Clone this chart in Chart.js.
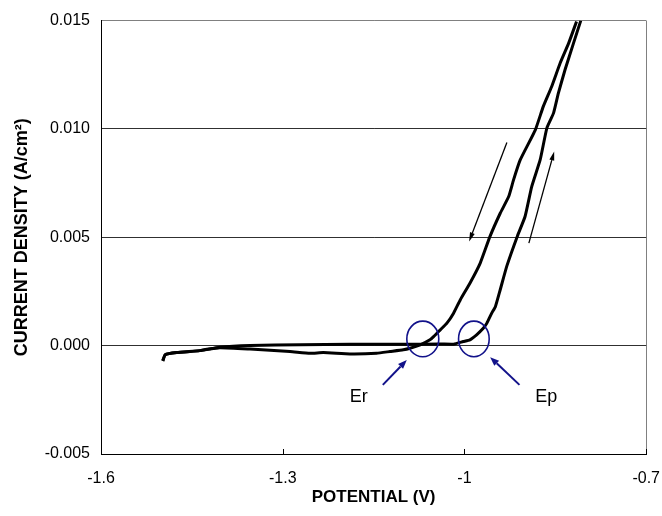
<!DOCTYPE html>
<html><head><meta charset="utf-8">
<script src="https://cdn.jsdelivr.net/npm/chart.js@4.4.1/dist/chart.umd.min.js"></script>
<style>html,body{margin:0;padding:0;background:#fff}#wrap{width:662px;height:516px}</style>
</head><body><div id="wrap"><canvas id="c" width="662" height="516"></canvas></div>
<script>
// Forward (anodic) scan
const forwardV = [-1.498,-1.494,-1.475,-1.437,-1.404,-1.354,-1.271,-1.189,-1.106,-1.040,-1.018,-1.002,-0.991,-0.980,-0.969,-0.963,-0.955,-0.949,-0.941,-0.930,-0.913,-0.900,-0.889,-0.875,-0.864,-0.853,-0.845,-0.834,-0.820,-0.808];
const forwardI = [-0.0007,-0.00042,-0.00032,-0.00023,-0.00007,0.00001,0.00004,0.00006,0.00006,0.00008,0.00007,0.00019,0.00027,0.0005,0.0008,0.00104,0.0015,0.0018,0.00258,0.00368,0.00503,0.00596,0.00734,0.00858,0.01004,0.01073,0.01165,0.01273,0.01396,0.0150];
// Reverse scan
const reverseV = [-0.815,-0.828,-0.842,-0.856,-0.870,-0.883,-0.908,-0.919,-0.927,-0.941,-0.958,-0.974,-0.991,-1.007,-1.018,-1.029,-1.040,-1.051,-1.057,-1.073,-1.090,-1.101,-1.123,-1.145,-1.189,-1.233,-1.255,-1.288,-1.354,-1.404,-1.437,-1.475,-1.494,-1.498];
const reverseI = [0.01496,0.01396,0.01304,0.01196,0.01103,0.00996,0.00857,0.00765,0.00688,0.00611,0.00503,0.00381,0.00288,0.00211,0.0015,0.00104,0.00073,0.00042,0.00027,0.00004,-0.00012,-0.00019,-0.00027,-0.00035,-0.00038,-0.00032,-0.00035,-0.00027,-0.00016,-0.0001,-0.00023,-0.00032,-0.00042,-0.0007];
const xTicks = [-1.6,-1.3,-1,-0.7];
const yTicks = [-0.005,0,0.005,0.010,0.015];
// annotations (data coordinates)
const circleCenters = [[-1.0688,0.00031],[-0.9845,0.00031]];
const circleRx = [0.0264,0.0253];
const circleRy = [0.00082,0.00082];
const navyArrows = [[-1.1348,-0.00181,-1.0952,-0.00066],[-0.9092,-0.00181,-0.9576,-0.00053]];
const blackArrows = [[-0.930,0.00937,-0.9923,0.00481],[-0.8937,0.00473,-0.8519,0.00896]];
const noteLabels = [["Er",-1.1744,-0.00235],["Ep",-0.8651,-0.00235]];

const FONT = '"Liberation Sans", Arial, sans-serif';
const NAVY = '#12128a';

function toPts(xs, ys){ return xs.map((v,i)=>({x:v,y:ys[i]})); }

function arrow(ctx,x1,y1,x2,y2,color,lw,hl,hw){
  const a=Math.atan2(y2-y1,x2-x1);
  ctx.strokeStyle=color; ctx.fillStyle=color; ctx.lineWidth=lw;
  const bx=x2-hl*Math.cos(a), by=y2-hl*Math.sin(a);
  ctx.beginPath(); ctx.moveTo(x1,y1); ctx.lineTo(bx,by); ctx.stroke();
  ctx.beginPath(); ctx.moveTo(x2,y2);
  ctx.lineTo(bx+hw/2*Math.sin(a), by-hw/2*Math.cos(a));
  ctx.lineTo(bx-hw/2*Math.sin(a), by+hw/2*Math.cos(a));
  ctx.closePath(); ctx.fill();
}

const annot = {
  id:'annot',
  afterDatasetsDraw(chart){
    const {ctx, scales:{x,y}} = chart;
    const px=v=>x.getPixelForValue(v), py=v=>y.getPixelForValue(v);
    ctx.save();
    ctx.strokeStyle='#000'; ctx.lineWidth=1;
    xTicks.forEach(t=>{const X=Math.round(px(t))+0.5; ctx.beginPath(); ctx.moveTo(X,y.bottom); ctx.lineTo(X,y.bottom-5); ctx.stroke();});
    ctx.strokeStyle=NAVY; ctx.lineWidth=1.6;
    circleCenters.forEach((c,i)=>{
      const cx=px(c[0]), cy=py(c[1]);
      const rx=Math.abs(px(c[0]+circleRx[i])-cx), ry=Math.abs(py(c[1]+circleRy[i])-cy);
      ctx.beginPath(); ctx.ellipse(cx,cy,rx,ry,0,0,Math.PI*2); ctx.stroke();
    });
    navyArrows.forEach(a=>arrow(ctx,px(a[0]),py(a[1]),px(a[2]),py(a[3]),NAVY,2,9,7));
    blackArrows.forEach(a=>arrow(ctx,px(a[0]),py(a[1]),px(a[2]),py(a[3]),'#000',1.3,9,5));
    ctx.fillStyle='#000'; ctx.font='18px '+FONT; ctx.textAlign='center'; ctx.textBaseline='middle';
    noteLabels.forEach(l=>ctx.fillText(l[0],px(l[1]),py(l[2])));
    ctx.restore();
  }
};

new Chart(document.getElementById('c'), {
  type:'scatter',
  data:{datasets:[
    {label:'forward', data:toPts(forwardV,forwardI), showLine:true, borderColor:'#000', borderWidth:3, pointRadius:0, tension:0.15},
    {label:'reverse', data:toPts(reverseV,reverseI), showLine:true, borderColor:'#000', borderWidth:3, pointRadius:0, tension:0.15}
  ]},
  options:{
    responsive:false, animation:false, devicePixelRatio:1,
    layout:{padding:{top:20,right:3,left:0,bottom:0}},
    plugins:{legend:{display:false}, tooltip:{enabled:false}},
    scales:{
      x:{type:'linear', min:-1.6, max:-0.7,
        afterBuildTicks:s=>{s.ticks=xTicks.map(v=>({value:v}));},
        afterFit:s=>{s.height=62;},
        border:{color:'#000',width:1},
        grid:{drawTicks:true, tickLength:13, tickColor:'rgba(0,0,0,0)', color:c=>(c.tick && c.tick.value===-0.7)?'#808080':'rgba(0,0,0,0)'},
        ticks:{padding:2, color:'#000', font:{family:FONT,size:16}, maxRotation:0, callback:v=>String(parseFloat(Number(v).toFixed(2)))},
        title:{display:true, text:'POTENTIAL (V)', color:'#000', font:{family:FONT,size:17,weight:'bold'}, padding:{top:0,bottom:8}}
      },
      y:{type:'linear', min:-0.005, max:0.015,
        afterBuildTicks:s=>{s.ticks=yTicks.map(v=>({value:v}));},
        afterFit:s=>{s.width=101;},
        border:{color:'#000',width:1},
        grid:{drawTicks:false, color:c=>(c.tick && c.tick.value===0.015)?'#808080':'#303030'},
        ticks:{padding:11, color:'#000', font:{family:FONT,size:16}, callback:v=>Number(v).toFixed(3)},
        title:{display:true, text:'CURRENT DENSITY (A/cm²)', color:'#000', font:{family:FONT,size:18,weight:'bold'}, padding:{top:11,bottom:0}}
      }
    }
  },
  plugins:[annot]
});
</script></body></html>
